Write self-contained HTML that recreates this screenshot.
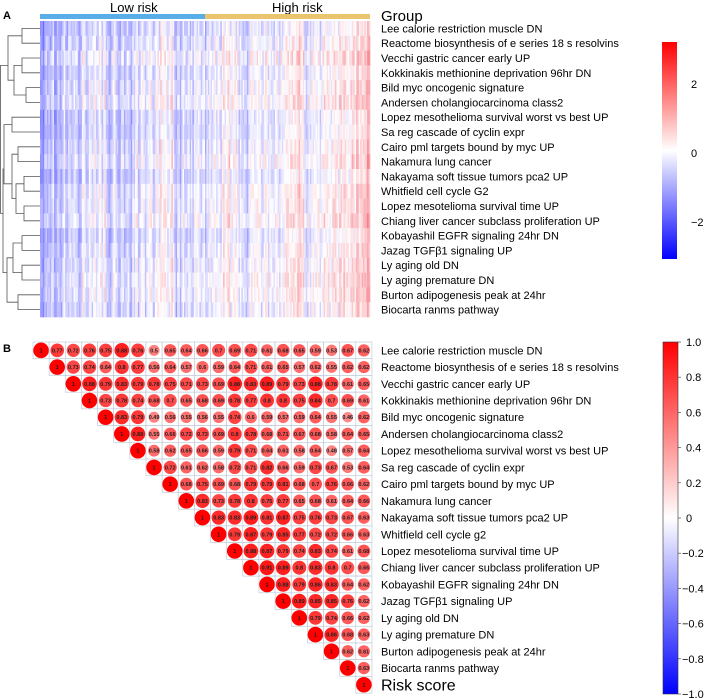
<!DOCTYPE html>
<html><head><meta charset="utf-8">
<style>
body{margin:0;background:#fff;}
svg{display:block;font-family:"Liberation Sans",Arial,sans-serif;}
</style></head>
<body>
<svg id="fig" width="709" height="698" viewBox="0 0 709 698">
<text x="3" y="19" font-size="11" font-weight="bold">A</text>
<text x="3" y="352" font-size="11" font-weight="bold">B</text>
<text x="110" y="12" font-size="13">Low risk</text>
<text x="272" y="12" font-size="13">High risk</text>
<rect x="40" y="14" width="165" height="5" fill="#5aaee8"/>
<rect x="205" y="14" width="165" height="5" fill="#eac56e"/>
<text x="381" y="21" font-size="15">Group</text>
<g id="heat"></g>
<g id="dendro" stroke="#555" fill="none" stroke-width="0.8"></g>
<g id="labelsA"></g>
<g id="corr"></g>
<g id="labelsB"></g>
<defs>
<linearGradient id="gA" x1="0" y1="1" x2="0" y2="0"><stop offset="0" stop-color="#0000ff"/><stop offset="0.5" stop-color="#ffffff"/><stop offset="1" stop-color="#ff0000"/></linearGradient>
</defs>
<rect x="662" y="42" width="15" height="217" fill="url(#gA)"/>
<rect x="663" y="342" width="15" height="352" fill="url(#gA)" stroke="#333" stroke-width="0.6"/>
<g id="cbA"></g>
<g id="cbB"></g>
</svg>
<script>
const labelsA=["Lee calorie restriction muscle DN","Reactome biosynthesis of e series 18 s resolvins","Vecchi gastric cancer early UP","Kokkinakis methionine deprivation 96hr DN","Bild myc oncogenic signature","Andersen cholangiocarcinoma class2","Lopez mesothelioma survival worst vs best UP","Sa reg cascade of cyclin expr","Cairo pml targets bound by myc UP","Nakamura lung cancer","Nakayama soft tissue tumors pca2 UP","Whitfield cell cycle G2","Lopez mesotelioma survival time UP","Chiang liver cancer subclass proliferation UP","Kobayashil EGFR signaling 24hr DN","Jazag TGF\u03b21 signaling UP","Ly aging old DN","Ly aging premature DN","Burton adipogenesis peak at 24hr","Biocarta ranms pathway"];
const labelsB=["Lee calorie restriction muscle DN","Reactome biosynthesis of e series 18 s resolvins","Vecchi gastric cancer early UP","Kokkinakis methionine deprivation 96hr DN","Bild myc oncogenic signature","Andersen cholangiocarcinoma class2","Lopez mesothelioma survival worst vs best UP","Sa reg cascade of cyclin expr","Cairo pml targets bound by myc UP","Nakamura lung cancer","Nakayama soft tissue tumors pca2 UP","Whitfield cell cycle g2","Lopez mesotelioma survival time UP","Chiang liver cancer subclass proliferation UP","Kobayashil EGFR signaling 24hr DN","Jazag TGF\u03b21 signaling UP","Ly aging old DN","Ly aging premature DN","Burton adipogenesis peak at 24hr","Biocarta ranms pathway","Risk score"];
// column scores (digits 0..9 -> -2.25..+2.25), hand-estimated from the picture
const colScores="1021302142313204132423143253243413524234243542352435342543524354253624354536455364546354656475645765476567587657685768";
const rowShift=[-0.2,-0.1,0.1,0,0.1,0.1,-0.1,0.1,0,0.1,-0.1,0.1,0,0.1,-0.1,0,-0.1,0.1,0,-0.1];
const rowPattern=["31415926535","27182818284","16180339887","14142135623","17320508075","22360679774","26457513110","30000000001","31622776601","33166247903","34641016151","36055512754","37416573867","38729833462","41231056256","42426406871","43588989435","44721359549","45825756949","46904157598"];
const corrRows=[
[0.77,0.72,0.76,0.75,0.88,0.76,0.5,0.65,0.64,0.66,0.7,0.69,0.71,0.61,0.68,0.65,0.59,0.53,0.67,0.62],
[0.73,0.74,0.64,0.8,0.77,0.56,0.64,0.57,0.6,0.59,0.64,0.71,0.61,0.65,0.57,0.62,0.55,0.62,0.62],
[0.88,0.79,0.83,0.79,0.78,0.75,0.71,0.73,0.69,0.88,0.83,0.89,0.79,0.73,0.88,0.78,0.61,0.65],
[0.73,0.78,0.74,0.68,0.7,0.65,0.68,0.69,0.78,0.77,0.8,0.8,0.75,0.84,0.7,0.69,0.61],
[0.83,0.79,0.49,0.56,0.55,0.56,0.55,0.74,0.6,0.59,0.57,0.59,0.64,0.55,0.46,0.62],
[0.88,0.55,0.66,0.72,0.73,0.69,0.8,0.78,0.68,0.71,0.67,0.68,0.58,0.64,0.65],
[0.58,0.62,0.65,0.66,0.59,0.79,0.71,0.64,0.61,0.58,0.64,0.48,0.57,0.64],
[0.72,0.61,0.62,0.58,0.72,0.71,0.82,0.66,0.59,0.73,0.67,0.53,0.64],
[0.68,0.75,0.69,0.68,0.79,0.79,0.81,0.68,0.7,0.76,0.66,0.62],
[0.83,0.73,0.78,0.8,0.75,0.77,0.65,0.68,0.61,0.64,0.66],
[0.83,0.83,0.89,0.81,0.87,0.75,0.76,0.73,0.67,0.63],
[0.79,0.87,0.79,0.85,0.77,0.72,0.72,0.66,0.63],
[0.88,0.87,0.79,0.74,0.83,0.74,0.61,0.68],
[0.91,0.89,0.8,0.83,0.8,0.7,0.66],
[0.88,0.79,0.86,0.83,0.64,0.62],
[0.89,0.85,0.85,0.76,0.62],
[0.79,0.74,0.66,0.62],
[0.86,0.68,0.63],
[0.62,0.61],
[0.63],
[]];
const ticksA=[2,0,-2];
const ticksB=[1.0,0.8,0.6,0.4,0.2,0,-0.2,-0.4,-0.6,-0.8,-1.0];

const NS="http://www.w3.org/2000/svg";
function mk(tag,attrs,parent){const e=document.createElementNS(NS,tag);for(const k in attrs)e.setAttribute(k,attrs[k]);parent.appendChild(e);return e;}
function col(v,max){let t=Math.max(-1,Math.min(1,v/max));let r,g,b;if(t>=0){r=255;g=b=Math.round(255*(1-t));}else{b=255;r=g=Math.round(255*(1+t));}return `rgb(${r},${g},${b})`;}
function colH(v){let t=Math.max(-1,Math.min(1,v/3));if(t>=0){const g=Math.round(255*(1-t));return `rgb(${Math.round(255-20*t)},${g},${Math.round(g+20*t)})`;}const a=-t;const r=Math.round(255*(1-a)+30*a);return `rgb(${r},${r},255)`;}

// Heatmap A
const hx0=40,hx1=370,hy0=21,hy1=317;
const nC=colScores.length,nR=labelsA.length,SUB=2;
const cw=(hx1-hx0)/(nC*SUB),rh=(hy1-hy0)/nR;
const heat=document.getElementById('heat');
for(let r=0;r<nR;r++){for(let c=0;c<nC*SUB;c++){
 const ci=Math.floor(c/SUB);
 const base=(+colScores[ci])*0.5-2.25;
 const pat=rowPattern[r];
 const colJ=((+colScores[(ci*5+c%SUB*3)%nC])-4.5)*0.15;
 const jit=((+pat[(c*7+r)%pat.length])-4.5)*0.08;
 const v=base*0.38+colJ+rowShift[r]+jit;
 const e=mk('rect',{x:(hx0+c*cw).toFixed(2),y:(hy0+r*rh).toFixed(2),width:(cw+0.3).toFixed(2),height:(rh+0.3).toFixed(2),fill:colH(v)},heat);
 
 
}}
const la=document.getElementById('labelsA');
labelsA.forEach((t,i)=>{const e=mk('text',{x:381,y:(hy0+(i+0.5)*rh+4).toFixed(1),'font-size':11},la);e.textContent=t;
 
 });

// dendrogram
const d=document.getElementById('dendro');
const yc=i=>hy0+(i+0.5)*rh;
function link(a,b,x,xa,xb){mk('path',{d:`M${xa},${a}H${x}V${b}H${xb}`},d);}
link(yc(0),yc(1),22,40,40);
link(yc(2),yc(3),22,40,40);
link(yc(4),yc(5),26,40,40);
link((yc(2)+yc(3))/2,(yc(4)+yc(5))/2,14,22,26);
link((yc(0)+yc(1))/2,((yc(2)+yc(3))/2+(yc(4)+yc(5))/2)/2,8,22,14);
link(yc(6),yc(7),12,40,40);
link(yc(8),yc(9),18,40,40);
link(yc(10),yc(11),24,40,40);
link(yc(12),yc(13),24,40,40);
link((yc(10)+yc(11))/2,(yc(12)+yc(13))/2,16,24,24);
link((yc(8)+yc(9))/2,(yc(10)+yc(13))/2,12,18,16);
link((yc(6)+yc(7))/2,(yc(8)+yc(13))/2,4,12,12);
link(yc(14),yc(15),22,40,40);
link(yc(16),yc(17),22,40,40);
link(yc(18),yc(19),18,40,40);
link((yc(14)+yc(15))/2,(yc(16)+yc(17))/2,13,22,22);
link((yc(14)+yc(17))/2,(yc(18)+yc(19))/2,7,13,18);
link((yc(6)+yc(13))/2,(yc(14)+yc(19))/2,3,4,7);
link((yc(0)+yc(5))/2,(yc(6)+yc(19))/2,0.5,8,3);

// colorbar A ticks
const cbA=document.getElementById('cbA');
const yA=v=>153-v*34.5;
ticksA.forEach(v=>{const t=mk('text',{x:691,y:(yA(v)+4).toFixed(1),'font-size':11},cbA);t.textContent=v<0?'\u2212'+(-v):String(v);
 
 });

// Correlation matrix
const cx0=33,cy0=342,ccw=16.14,crh=16.72;
const corr=document.getElementById('corr');
const N=labelsB.length;
for(let i=0;i<N;i++){
 const vals=[1].concat(corrRows[i]);
 vals.forEach((v,k)=>{const j=i+k;
  const x=cx0+j*ccw,y=cy0+i*crh;
  const c=mk('rect',{x:x.toFixed(2),y:y.toFixed(2),width:ccw.toFixed(2),height:crh.toFixed(2),fill:'#fff',stroke:'#b8c4d4','stroke-width':0.6},corr);
  
  
  const r=7.8*Math.sqrt(Math.abs(v));
  const ci=mk('circle',{cx:(x+ccw/2).toFixed(2),cy:(y+crh/2).toFixed(2),r:r.toFixed(2),fill:col(v,1)},corr);
  
  
  const t=mk('text',{x:(x+ccw/2).toFixed(2),y:(y+crh/2+2).toFixed(2),'font-size':5.5,'font-weight':'bold','text-anchor':'middle',fill:'#222'},corr);
  t.textContent=String(v);
  
  
 });
}
const lb=document.getElementById('labelsB');
labelsB.forEach((t,i)=>{const last=i===N-1;const e=mk('text',{x:381,y:(cy0+(i+0.5)*crh+(last?5.5:4)).toFixed(1),'font-size':last?16:11},lb);e.textContent=t;
 
 });

// colorbar B ticks
const cbB=document.getElementById('cbB');
const yB=v=>518-v*176;
ticksB.forEach(v=>{const y=yB(v);
 const l=mk('line',{x1:678,x2:681,y1:y,y2:y,stroke:'#333','stroke-width':0.6},cbB);
 
 
 const t=mk('text',{x:v<0?682:686,y:(y+4).toFixed(1),'font-size':11},cbB);
 t.textContent=v===0?'0':(v<0?'\u2212'+(-v).toFixed(1):v.toFixed(1));
 
 });
</script>
</body></html>
